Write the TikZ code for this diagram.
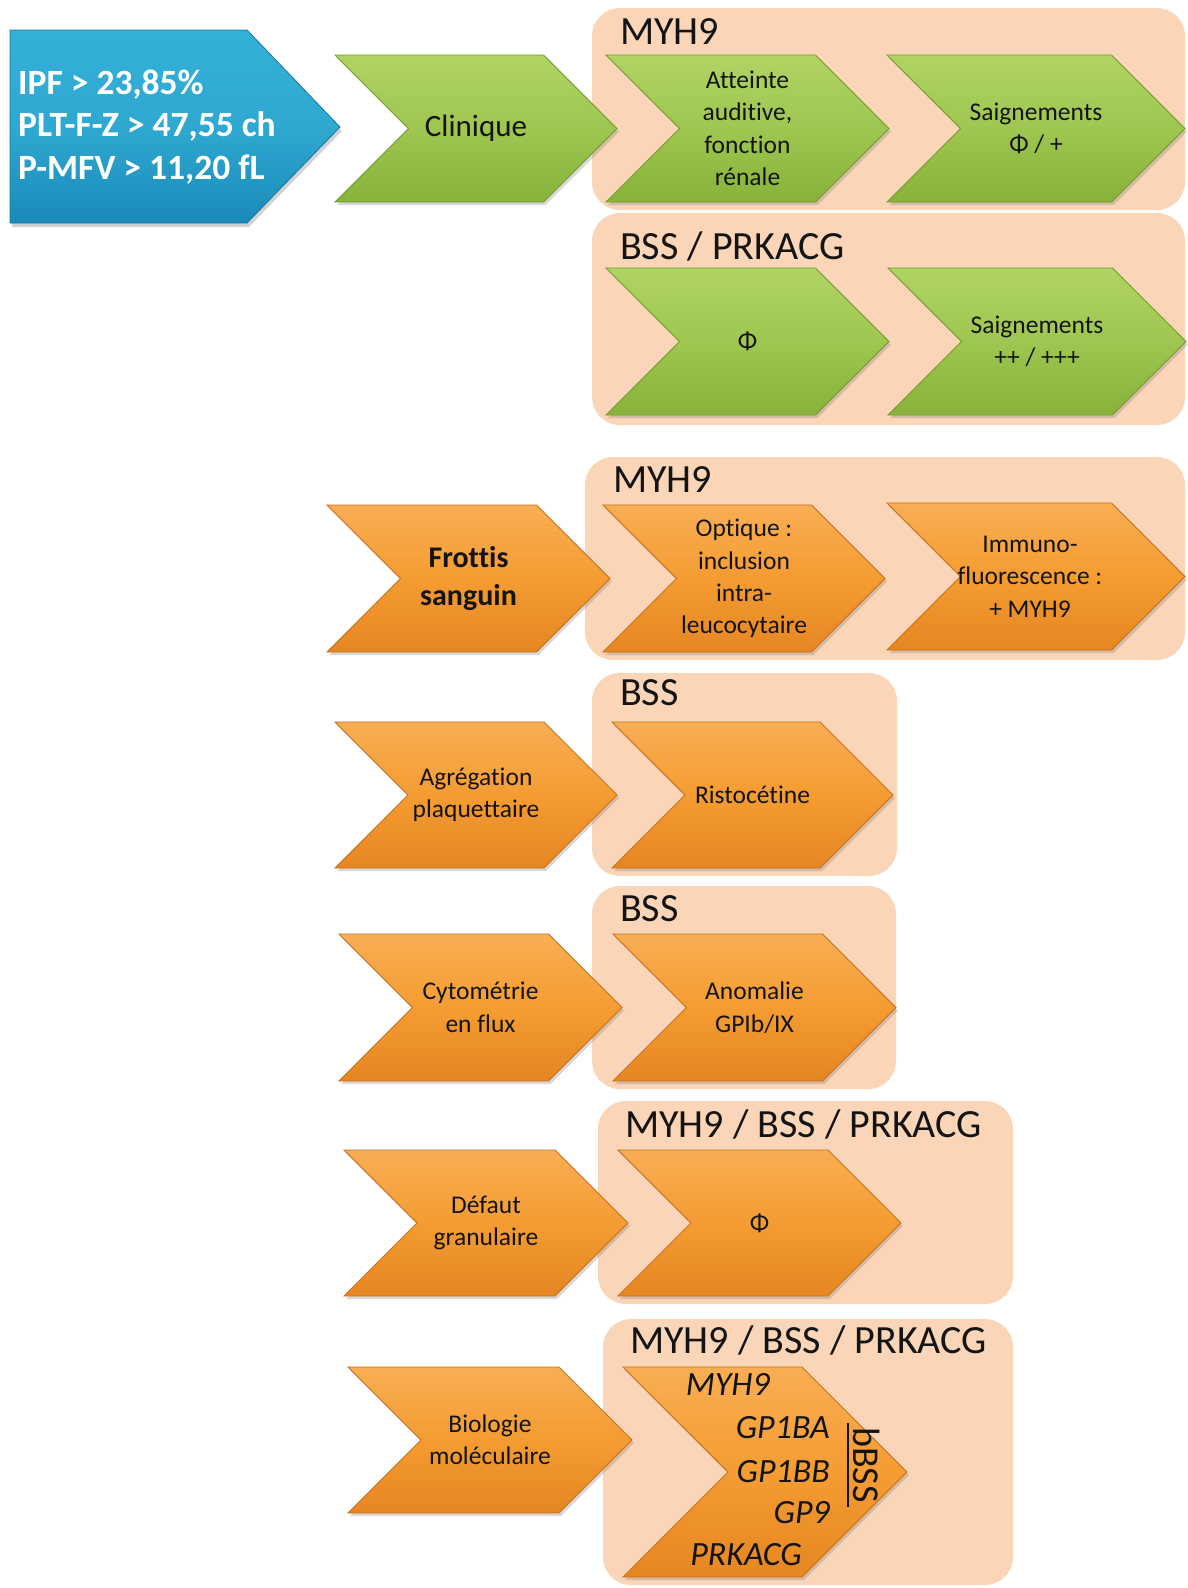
\documentclass[tikz,border=0pt]{standalone}
\usepackage{fontspec}
\setmainfont{Carlito}[Ligatures=NoCommon]
\usetikzlibrary{shadows}
\definecolor{peach}{RGB}{250,213,183}
\definecolor{gtop}{RGB}{176,212,100}
\definecolor{gmid}{RGB}{158,198,80}
\definecolor{gbot}{RGB}{136,178,58}
\definecolor{gline}{RGB}{118,156,48}
\definecolor{otop}{RGB}{249,174,84}
\definecolor{omid}{RGB}{244,156,50}
\definecolor{obot}{RGB}{230,134,34}
\definecolor{oline}{RGB}{200,112,26}
\definecolor{btop}{RGB}{52,176,216}
\definecolor{bbot}{RGB}{26,138,184}
\definecolor{bline}{RGB}{22,120,162}
\definecolor{ink}{RGB}{20,20,20}
\tikzset{
  groupbox/.style={fill=peach, rounded corners=28pt},
  greenchev/.style={top color=gtop, bottom color=gbot, middle color=gmid, draw=gline, line width=0.8pt,
    drop shadow={opacity=0.3, shadow xshift=2pt, shadow yshift=-3pt}},
  orangechev/.style={top color=otop, bottom color=obot, middle color=omid, draw=oline, line width=0.8pt,
    drop shadow={opacity=0.3, shadow xshift=2pt, shadow yshift=-3pt}},
  bluechev/.style={top color=btop, bottom color=bbot, middle color=btop!80!bbot, draw=bline, line width=0.8pt,
    drop shadow={opacity=0.35, shadow xshift=2pt, shadow yshift=-4pt}},
  chevtext/.style={align=center, text=ink, inner sep=0pt, font=\fontsize{25.5}{32.4}\selectfont},
  grouplabel/.style={anchor=base west, inner sep=0pt, text=ink, font=\fontsize{40}{48}\selectfont},
  moltext/.style={anchor=base east, inner sep=0pt, text=ink, font=\fontsize{34}{42}\selectfont\itshape},
}
% #1 name, #2 x left, #3 y top, #4 width, #5 height, #6 shape style, #7 node options, #8 text
\newcommand\chev[8]{%
  \path[#6] (#2,-#3) -- ({#2+#4-#5/2},-#3) -- ({#2+#4},{-#3-#5/2}) -- ({#2+#4-#5/2},{-#3-#5})
     -- (#2,{-#3-#5}) -- ({#2+#5/2},{-#3-#5/2}) -- cycle;
  \node[chevtext,#7] (#1) at ({#2+#4/2},{-#3-#5/2}) {#8};
}
\begin{document}
\begin{tikzpicture}[x=1pt,y=1pt]
\useasboundingbox (0,0) rectangle (1187,-1588);
\fill[white] (0,0) rectangle (1187,-1588);

% group boxes
\path[groupbox] (592,-8) rectangle (1185,-210);
\path[groupbox] (592,-213) rectangle (1185,-425);
\path[groupbox] (585,-457) rectangle (1185,-660);
\path[groupbox] (592,-673) rectangle (897,-876);
\path[groupbox] (592,-886) rectangle (896,-1089);
\path[groupbox] (598,-1101) rectangle (1013,-1304);
\path[groupbox] (603,-1319) rectangle (1013,-1585);

% group labels
\node[grouplabel] (lA) at (620,-44) {MYH9};
\node[grouplabel] (lB) at (620,-259) {BSS / PRKACG};
\node[grouplabel] (lC) at (613,-492) {MYH9};
\node[grouplabel] (lD) at (620,-705) {BSS};
\node[grouplabel] (lE) at (620,-921) {BSS};
\node[grouplabel] (lF) at (625,-1137) {MYH9 / BSS / PRKACG};
\node[grouplabel] (lG) at (630,-1353) {MYH9 / BSS / PRKACG};

% blue pentagon
\path[bluechev] (10,-30) -- (247,-30) -- (340,-127) -- (247,-223) -- (10,-223) -- cycle;
\node[anchor=west, align=left, inner sep=0pt, text=white,
  font=\fontsize{35.5}{42.5}\selectfont\bfseries] (crit) at (18,-127)
  {IPF > 23,85\%\\PLT-F-Z > 47,55 ch\\P-MFV > 11,20 fL};

% row A
\chev{clin}{335}{55}{282}{147}{greenchev}{font=\fontsize{31}{38}\selectfont}{Clinique}
\chev{att}{606}{55}{283}{147}{greenchev}{}{Atteinte\\auditive,\\fonction\\rénale}
\chev{saigA}{887}{55}{298}{147}{greenchev}{}{Saignements\\Φ / +}
% row B
\chev{phiA}{606}{268}{283}{147}{greenchev}{}{Φ}
\chev{saigB}{888}{268}{298}{147}{greenchev}{}{Saignements\\++ / +++}
% row C
\chev{frot}{327}{505}{283}{147}{orangechev}{font=\fontsize{30}{38}\selectfont\bfseries}{Frottis\\sanguin}
\chev{opt}{603}{505}{282}{147}{orangechev}{}{Optique :\\inclusion\\intra-\\leucocytaire}
\chev{imm}{887}{503}{298}{147}{orangechev}{xshift=-6pt}{Immuno-\\fluorescence :\\+ MYH9}
% row D
\chev{agr}{335}{722}{282}{146}{orangechev}{}{Agrégation\\plaquettaire}
\chev{rist}{612}{722}{281}{146}{orangechev}{}{Ristocétine}
% row E
\chev{cyt}{339}{934}{283}{147}{orangechev}{}{Cytométrie\\en flux}
\chev{anom}{613}{934}{283}{147}{orangechev}{}{Anomalie\\GPIb/IX}
% row F
\chev{def}{344}{1150}{284}{146}{orangechev}{}{Défaut\\granulaire}
\chev{phiB}{618}{1150}{283}{146}{orangechev}{}{Φ}
% row G
\chev{bio}{348}{1367}{284}{146}{orangechev}{}{Biologie\\moléculaire}
\chev{mol}{623}{1367}{284}{210}{orangechev}{}{}

\node[moltext] (g1) at (770,-1395) {MYH9};
\node[moltext] (g2) at (830,-1438) {GP1BA};
\node[moltext] (g3) at (830,-1482) {GP1BB};
\node[moltext] (g4) at (830,-1523) {GP9};
\node[moltext] (g5) at (802,-1565) {PRKACG};

\coordinate (bl1) at (848,-1423);
\coordinate (bl2) at (848,-1507);
\draw[ink, line width=1.6pt] (bl1) -- (bl2);
\node[rotate=-90, inner sep=0pt, text=ink, font=\fontsize{38}{44}\selectfont] (bbss) at (867,-1465) {bBSS};
\end{tikzpicture}
\end{document}
